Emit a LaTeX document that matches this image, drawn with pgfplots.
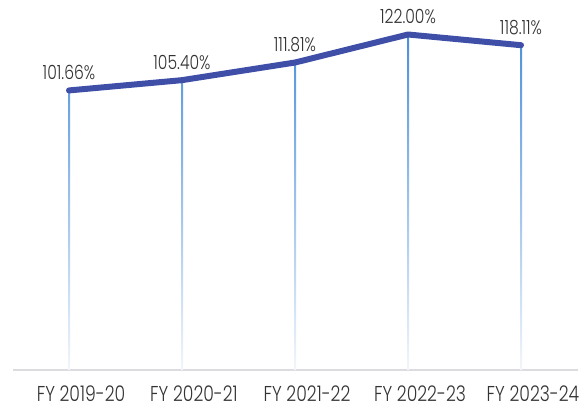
\documentclass[border=0pt]{standalone}
\usepackage{pgfplots}
\pgfplotsset{compat=1.18}
\usepackage{fontspec}
\setmainfont{Poppins}[UprightFont=* Light, FakeStretch=0.8]
\definecolor{lineblue}{HTML}{3F4FA8}
\definecolor{dropblue}{HTML}{4A8FDB}
\definecolor{dropfade}{HTML}{F2F6FB}
\definecolor{axisgray}{HTML}{DCDCE0}
\definecolor{txt}{HTML}{333333}
\begin{document}
\begin{tikzpicture}
\begin{axis}[
  scale only axis, width=565pt, height=357.5pt,
  xmin=-0.5, xmax=4.5, ymin=0, ymax=130,
  axis x line=bottom, axis y line=none,
  x axis line style={draw=axisgray, line width=2.5pt, -},
  xtick={0,1,2,3,4},
  xticklabels={FY 2019-20, FY 2020-21, FY 2021-22, FY 2022-23, FY 2023-24},
  major tick length=0pt, xtick style={draw=none},
  xticklabel style={font=\fontsize{21.5}{24}\selectfont, text=txt, anchor=center, yshift=-24pt, xshift=12pt},
  ytick=\empty,
  clip=false,
  /pgf/number format/assume math mode=true,
]
\addplot[ybar, bar width=2pt, draw=none, top color=dropblue, bottom color=dropfade, forget plot]
  coordinates {(0,101.66) (1,105.40) (2,111.81) (3,122.00) (4,118.11)};
\addplot[lineblue, line width=6pt, line cap=round, line join=round, mark=none,
  nodes near coords={\pgfmathprintnumber[fixed,fixed zerofill,precision=2]{\pgfplotspointmeta}\%},
  every node near coord/.append style={font=\fontsize{19.5}{22}\selectfont, text=txt, anchor=center, yshift=18pt}]
  coordinates {(0,101.66) (1,105.40) (2,111.81) (3,122.00) (4,118.11)};
\end{axis}
\pgfresetboundingbox
\path ([xshift=-12.5pt,yshift=-40pt]current axis.south west) rectangle ([xshift=9.5pt,yshift=12.5pt]current axis.north east);
\end{tikzpicture}
\end{document}
